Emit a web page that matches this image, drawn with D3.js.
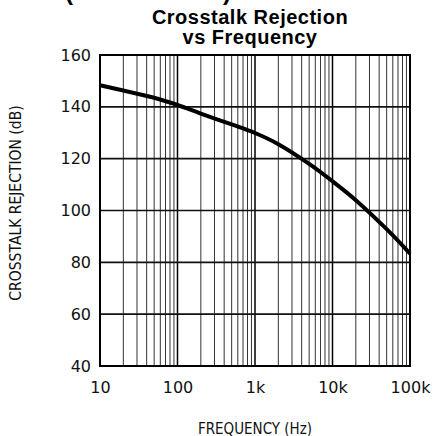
<!DOCTYPE html>
<html><head><meta charset="utf-8">
<script src="https://cdn.jsdelivr.net/npm/d3@7"></script>
<style>
html,body{margin:0;padding:0;background:#fff;}
svg{display:block;}
</style></head>
<body>
<svg id="c" width="436" height="436"></svg>
<script>
const titleLines = ["Crosstalk Rejection", "vs Frequency"];
const frequency = [10, 20, 50, 100, 200, 500, 1000, 2000, 5000, 10000, 20000, 50000, 100000];
const rejection = [148.3, 146.3, 143.5, 140.7, 137.4, 133.2, 129.9, 125.6, 118.0, 111.3, 104.0, 92.8, 83.4];
const xTicks = [10, 100, 1000, 10000, 100000];
const xTickLabels = ["10", "100", "1k", "10k", "100k"];
const yTicks = [40, 60, 80, 100, 120, 140, 160];
const xLabel = "FREQUENCY (Hz)";
const yLabel = "CROSSTALK REJECTION (dB)";

const svg = d3.select("#c");
const L = 100, R = 410, T = 55, B = 366;
const x = d3.scaleLog().domain([10, 100000]).range([L, R]);
const y = d3.scaleLinear().domain([40, 160]).range([B, T]);

// minor vertical grid
const minor = [];
for (let d = 10; d < 100000; d *= 10) for (let k = 2; k <= 9; k++) minor.push(d * k);
svg.append("g").selectAll("line").data(minor).join("line")
  .attr("x1", d => x(d)).attr("x2", d => x(d)).attr("y1", T).attr("y2", B)
  .attr("stroke", "#333").attr("stroke-width", 1);
svg.append("g").selectAll("line").data(xTicks.slice(1, -1)).join("line")
  .attr("x1", d => x(d)).attr("x2", d => x(d)).attr("y1", T).attr("y2", B)
  .attr("stroke", "#000").attr("stroke-width", 1.5);
// horizontal grid
svg.append("g").selectAll("line").data(yTicks.slice(1, -1)).join("line")
  .attr("x1", L).attr("x2", R).attr("y1", d => y(d)).attr("y2", d => y(d))
  .attr("stroke", "#111").attr("stroke-width", 1.6);
// frame
svg.append("rect").attr("x", L).attr("y", T).attr("width", R - L).attr("height", B - T)
  .attr("fill", "none").attr("stroke", "#000").attr("stroke-width", 2);

// curve
const line = d3.line().x((d, i) => x(frequency[i])).y(d => y(d)).curve(d3.curveCatmullRom.alpha(0.5));
svg.append("path").datum(rejection).attr("d", line)
  .attr("fill", "none").attr("stroke", "#000").attr("stroke-width", 4);

// axes
const yAxis = svg.append("g").attr("transform", `translate(${L},0)`)
  .call(d3.axisLeft(y).tickValues(yTicks).tickSize(0).tickPadding(9));
yAxis.select(".domain").remove();
yAxis.selectAll("text").attr("font-family", "DejaVu Sans").attr("font-size", 16).attr("fill", "#111");

const xAxis = svg.append("g").attr("transform", `translate(0,${B})`)
  .call(d3.axisBottom(x).tickValues(xTicks).tickFormat((d, i) => xTickLabels[i]).tickSize(0).tickPadding(16));
xAxis.select(".domain").remove();
xAxis.selectAll("text").attr("font-family", "DejaVu Sans").attr("font-size", 16).attr("fill", "#111");

// axis titles
svg.append("text").attr("transform", "translate(255,434) scale(0.9,1)").attr("text-anchor", "middle")
  .attr("font-family", "DejaVu Sans").attr("font-size", 15).attr("fill", "#111").text(xLabel);
svg.append("text").attr("transform", "translate(21,203) rotate(-90) scale(0.9,1)").attr("text-anchor", "middle")
  .attr("font-family", "DejaVu Sans").attr("font-size", 15.5).attr("fill", "#111").text(yLabel);

// title
svg.append("g").selectAll("text").data(titleLines).join("text")
  .attr("x", 250).attr("y", (d, i) => 24 + i * 19.5).attr("text-anchor", "middle")
  .attr("font-family", "Liberation Sans, Arial, sans-serif").attr("font-weight", "bold")
  .attr("font-size", 20).attr("letter-spacing", 0.5).text(d => d);
// cut-off line above the title
svg.append("g").selectAll("text").data(["(", ")"]).join("text")
  .attr("x", (d, i) => i ? 227 : 69).attr("y", 0).attr("text-anchor", "middle")
  .attr("font-family", "Liberation Sans, Arial, sans-serif").attr("font-weight", "bold")
  .attr("font-size", 24).text(d => d);
</script>
</body></html>
